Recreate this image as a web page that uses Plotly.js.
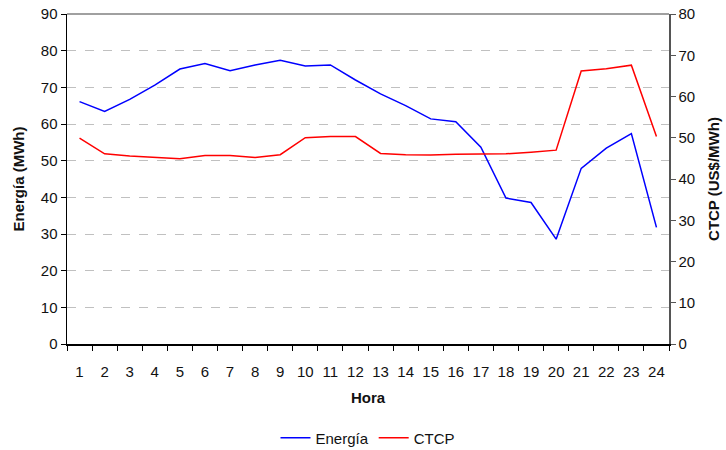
<!DOCTYPE html>
<html>
<head>
<meta charset="utf-8">
<script src="https://cdn.plot.ly/plotly-3.0.1.min.js"></script>
<style>html,body{margin:0;padding:0;background:#fff;}#chart{width:726px;height:450px;}</style>
</head>
<body>
<div id="chart"></div>
<script>
const horas = ["1","2","3","4","5","6","7","8","9","10","11","12","13","14","15","16","17","18","19","20","21","22","23","24"];
const energia = [66.1,63.4,66.7,70.6,75.0,76.5,74.5,76.1,77.4,75.8,76.1,72.0,68.2,65.0,61.4,60.6,53.7,39.8,38.6,28.6,47.9,53.4,57.4,31.8];
const ctcp = [49.9,46.1,45.6,45.3,44.9,45.7,45.7,45.2,45.9,50.0,50.3,50.3,46.2,45.9,45.8,46.0,46.1,46.1,46.5,47.0,66.2,66.7,67.6,50.3];

const font = {family: "Liberation Sans, Arial, sans-serif", size: 15, color: "#111"};
const traces = [
  {x: horas, y: energia, name: "Energía", type: "scatter", mode: "lines",
   line: {color: "#0000ff", width: 1.5}, yaxis: "y"},
  {x: horas, y: ctcp, name: "CTCP", type: "scatter", mode: "lines",
   line: {color: "#ff0000", width: 1.5}, yaxis: "y2"}
];
const layout = {
  width: 726, height: 450,
  margin: {l: 67, r: 57, t: 14, b: 106, autoexpand: false},
  paper_bgcolor: "#fff", plot_bgcolor: "#fff",
  font: font,
  showlegend: true,
  legend: {orientation: "h", x: 0.5, xanchor: "center", y: -0.285, yanchor: "middle",
           font: {family: font.family, size: 15, color: "#111"}},
  xaxis: {type: "category", range: [-0.5, 23.5], tickson: "boundaries", ticks: "outside", ticklen: 5,
          tickcolor: "#000", showline: true, linecolor: "#000", linewidth: 1.5, tickangle: 0,
          showgrid: false, zeroline: false, automargin: false, ticklabelstandoff: 13,
          title: {text: "<b>Hora</b>", standoff: 14, font: {family: font.family, size: 15, color: "#111"}},
          tickfont: {family: font.family, size: 15, color: "#111"}},
  yaxis: {range: [0, 90], dtick: 10, ticks: "outside", ticklen: 5, tickcolor: "#000",
          showline: true, linecolor: "#000", linewidth: 1.5, automargin: false,
          showgrid: true, gridcolor: "#c0c0c0", griddash: "dash", gridwidth: 1,
          zeroline: false,
          title: {text: "<b>Energía (MWh)</b>", standoff: 12, font: {family: font.family, size: 15, color: "#111"}},
          tickfont: {family: font.family, size: 15, color: "#111"}},
  yaxis2: {range: [0, 80], dtick: 10, overlaying: "y", side: "right", anchor: "x",
           ticks: "outside", ticklen: 5, tickcolor: "#555", automargin: false,
           showline: true, linecolor: "#555", linewidth: 1.5,
           showgrid: false, zeroline: false,
           title: {text: "<b>CTCP (US$/MWh)</b>", standoff: 14, font: {family: font.family, size: 15, color: "#111"}},
           tickfont: {family: font.family, size: 15, color: "#111"}},
  shapes: [{type: "line", xref: "paper", yref: "paper", x0: 0, x1: 1, y0: 1, y1: 1,
            line: {color: "#808080", width: 1.5}}]
};
Plotly.newPlot("chart", traces, layout, {displayModeBar: false, staticPlot: true});
</script>
</body>
</html>
